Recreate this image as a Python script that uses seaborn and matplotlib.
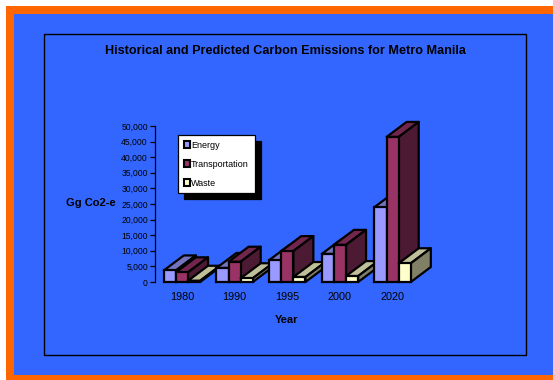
import matplotlib
matplotlib.use("Agg")
import matplotlib.pyplot as plt
import pandas as pd
import seaborn as sns
from matplotlib.patches import Patch, Polygon, Rectangle

# Emissions by sector (Gg CO2-e)
years = ["1980", "1990", "1995", "2000", "2020"]
energy = [3700, 4500, 7000, 9000, 24000]
transportation = [3100, 6500, 9900, 11900, 46500]
waste = [400, 1200, 1600, 1900, 6000]

sectors = ["Energy", "Transportation", "Waste"]
front_colors = ["#9999FF", "#993366", "#FFFFCC"]
top_colors = ["#7373BF", "#73264D", "#BFBF99"]
side_colors = ["#4D4D80", "#4D1A33", "#808066"]

W, H = 553, 380
EDGE = 1.6


def fx(px):
    return px / W


def fy(py):
    return 1 - py / H


sns.set_theme(style="white")
plt.rcParams["font.family"] = ["Liberation Sans", "DejaVu Sans"]

fig = plt.figure(figsize=(W / 100, H / 100), dpi=100, facecolor="white")

# Slide background: orange band, blue field, thin black chart frame
fig.add_artist(Rectangle((fx(6), 0), 1 - fx(6), fy(6), transform=fig.transFigure,
                         facecolor="#FF6600", edgecolor="none", zorder=-5))
fig.add_artist(Rectangle((fx(14), fy(375)), 1 - fx(14), fy(14) - fy(375),
                         transform=fig.transFigure, facecolor="#3366FF",
                         edgecolor="none", zorder=-4))
fig.add_artist(Rectangle((fx(43.5), fy(355)), fx(526) - fx(43.5), fy(34) - fy(355),
                         transform=fig.transFigure, facecolor="none",
                         edgecolor="black", linewidth=1.0, zorder=-3))

# Axes span: y axis at x=155 px, values 0 to 50,000 between y=282 and y=126 px
ax = fig.add_axes([fx(155), fy(282), fx(419) - fx(155), fy(126) - fy(282)])
ax.patch.set_alpha(0)

df = pd.DataFrame({
    "Year": years * 3,
    "Sector": [s for s in sectors for _ in years],
    "Value": energy + transportation + waste,
})

sns.barplot(data=df, x="Year", y="Value", hue="Sector", order=years, hue_order=sectors,
            palette=front_colors, width=0.69, gap=0, dodge=True, saturation=1,
            edgecolor="black", linewidth=EDGE, legend=False, ax=ax, clip_on=False)

ax.set_xlim(-0.512, 4.5)
ax.set_ylim(0, 50000)

# Extruded top and side faces, painted left to right so nearer bars overlap
depth_x = 20 / 52.7
depth_y = 15 / 156 * 50000
for year_i in range(len(years)):
    for sector_i, container in enumerate(ax.containers):
        bar = container[year_i]
        x0, x1 = bar.get_x(), bar.get_x() + bar.get_width()
        h = bar.get_height()
        base = 10 + 3 * (year_i * len(sectors) + sector_i)
        top = Polygon([(x0, h), (x0 + depth_x, h + depth_y), (x1 + depth_x, h + depth_y), (x1, h)],
                      facecolor=top_colors[sector_i], edgecolor="black", linewidth=EDGE,
                      joinstyle="round", clip_on=False, zorder=base)
        side = Polygon([(x1, 0), (x1 + depth_x, depth_y), (x1 + depth_x, h + depth_y), (x1, h)],
                       facecolor=side_colors[sector_i], edgecolor="black", linewidth=EDGE,
                       joinstyle="round", clip_on=False, zorder=base + 1)
        ax.add_patch(top)
        ax.add_patch(side)
        bar.set_zorder(base + 2)

sns.despine(ax=ax, bottom=True)
ax.spines["left"].set_color("black")
ax.spines["left"].set_linewidth(0.9)
ax.set_yticks(range(0, 50001, 5000))
ax.set_yticklabels([f"{v:,}" for v in range(0, 50001, 5000)])
ax.tick_params(axis="y", left=True, length=3.6, width=0.9, color="black",
               labelsize=6.2, labelcolor="black", pad=1.5)
ax.tick_params(axis="x", bottom=False, labelsize=7.8, labelcolor="black", pad=1.5)

ax.set_xlabel("Year", fontsize=8, fontweight="bold", color="black")
ax.xaxis.set_label_coords(fx(287), fy(320), transform=fig.transFigure)
ax.xaxis.label.set_verticalalignment("center")
ax.set_ylabel("Gg Co2-e", fontsize=8, fontweight="bold", color="black",
              rotation=0, ha="center", va="center")
ax.yaxis.set_label_coords(fx(91), fy(203), transform=fig.transFigure)

fig.suptitle("Historical and Predicted Carbon Emissions for Metro Manila",
             x=fx(285), y=fy(51.5), ha="center", va="center",
             fontsize=9.05, fontweight="bold", color="black")

handles = [Patch(facecolor=c, edgecolor="black", linewidth=1.5) for c in front_colors]
legend = ax.legend(handles, sectors, loc="upper left",
                   bbox_to_anchor=(fx(178), fy(135)), bbox_transform=fig.transFigure,
                   fontsize=6.5, frameon=True, fancybox=False, framealpha=1,
                   facecolor="white", edgecolor="black",
                   shadow={"color": "black", "alpha": 1, "ox": 6 * 72 / 100, "oy": -6 * 72 / 100},
                   handlelength=0.72, handleheight=0.85, handletextpad=0.12,
                   labelspacing=1.12, borderpad=0.62, borderaxespad=0, labelcolor="black")
legend.get_frame().set_linewidth(0.9)
legend.set_zorder(200)

fig.savefig("out.png", dpi=100)
